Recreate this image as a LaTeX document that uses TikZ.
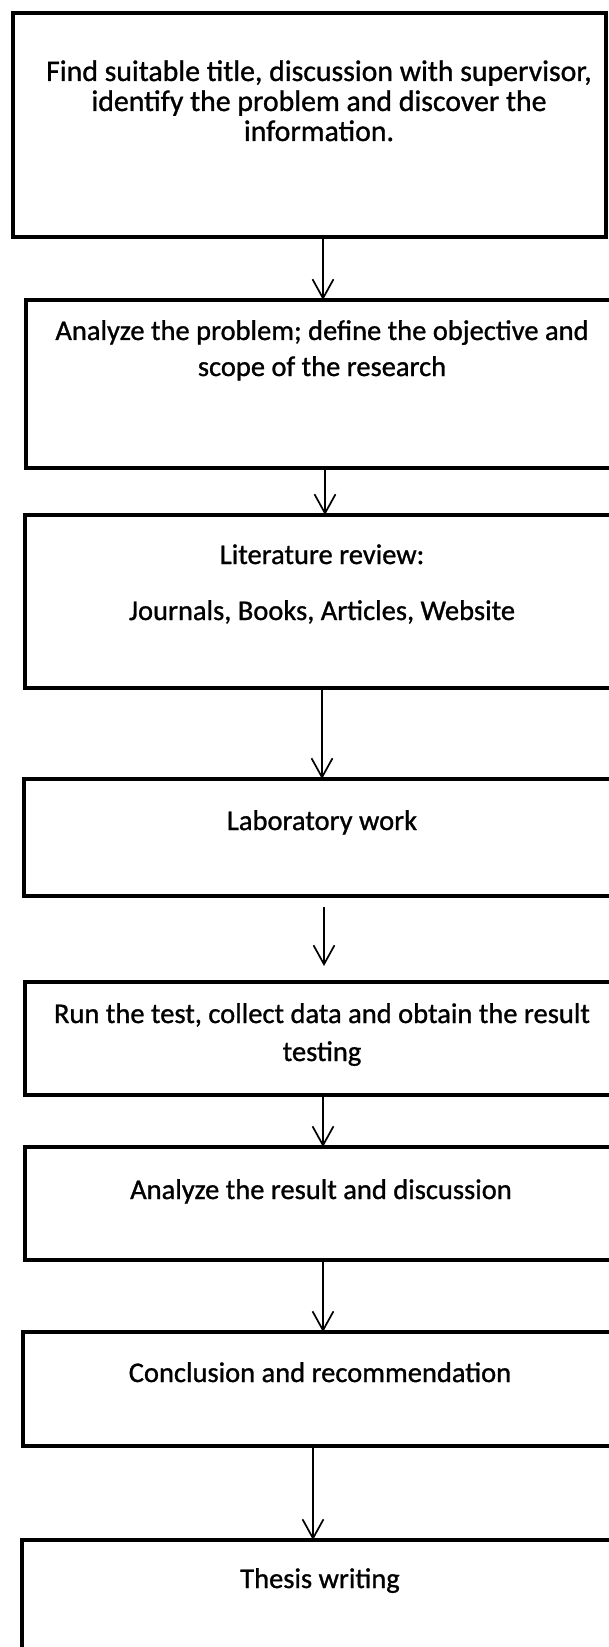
\documentclass[tikz,border=0pt]{standalone}
\usepackage{fontspec}
\setmainfont{Carlito}[FakeBold=1]
\usetikzlibrary{arrows.meta}
\begin{document}
\begin{tikzpicture}[x=0.5pt,y=-0.5pt,
  boxst/.style={draw, line width=2.3pt, line join=miter, rectangle, anchor=north west, inner sep=0pt, outer sep=0pt},
  arr/.style={line width=0.85pt, -{Straight Barb[length=9.5pt,width=10.5pt]}},
  txt/.style={font=\fontsize{14.25pt}{15.5pt}\selectfont, anchor=base, inner sep=0pt},
  bigtxt/.style={txt, font=\fontsize{14.9pt}{15.5pt}\selectfont}]
\useasboundingbox (0,0) rectangle (609,1647);
\fill[white] (0,0) rectangle (609,1647);
\clip (0,0) rectangle (609,1647);
% boxes
\node[boxst, minimum width=296.5pt, minimum height=112pt] (b1) at (13,13) {};
\node[boxst, minimum width=307pt, minimum height=84pt] (b2) at (26,300) {};
\node[boxst, minimum width=307.5pt, minimum height=86.5pt] (b3) at (25,515) {};
\node[boxst, minimum width=308pt, minimum height=58.5pt] (b4) at (24,779) {};
\node[boxst, minimum width=307.5pt, minimum height=56.5pt] (b5) at (25,982) {};
\node[boxst, minimum width=307.5pt, minimum height=56.5pt] (b6) at (25,1147) {};
\node[boxst, minimum width=308.5pt, minimum height=57pt] (b7) at (23,1332) {};
\node[boxst, minimum width=309pt, minimum height=80pt] (b8) at (22,1540) {};
% texts
\node[bigtxt] (t1a) at (319,81) {Find suitable title, discussion with supervisor,};
\node[bigtxt] (t1b) at (319,111) {identify the problem and discover the};
\node[bigtxt] (t1c) at (319,141) {information.};
\node[txt] (t2a) at (322,340) {Analyze the problem; define the objective and};
\node[txt] (t2b) at (322,376) {scope of the research};
\node[txt] (t3a) at (322,564) {Literature review:};
\node[txt] (t3b) at (322,620) {Journals, Books, Articles, Website};
\node[txt] (t4) at (322,830) {Laboratory work};
\node[txt] (t5a) at (322,1023) {Run the test, collect data and obtain the result};
\node[txt] (t5b) at (322,1061) {testing};
\node[txt] (t6) at (321,1199) {Analyze the result and discussion};
\node[txt] (t7) at (320,1382) {Conclusion and recommendation};
\node[txt] (t8) at (320,1588) {Thesis writing};
% arrow x positions
\coordinate (x1) at (323,0);
\coordinate (x2) at (325,0);
\coordinate (x3) at (322,0);
\coordinate (x5) at (323,0);
\coordinate (x6) at (323,0);
\coordinate (x7) at (313,0);
\coordinate (f4a) at (324,907);
\coordinate (f4b) at (324,966);
% connectors
\draw[arr] (b1.south -| x1) -- (b2.north -| x1);
\draw[arr] (b2.south -| x2) -- (b3.north -| x2);
\draw[arr] (b3.south -| x3) -- (b4.north -| x3);
\draw[arr] (f4a) -- (f4b);
\draw[arr] (b5.south -| x5) -- (b6.north -| x5);
\draw[arr] (b6.south -| x6) -- (b7.north -| x6);
\draw[arr] (b7.south -| x7) -- (b8.north -| x7);
\end{tikzpicture}
\end{document}
